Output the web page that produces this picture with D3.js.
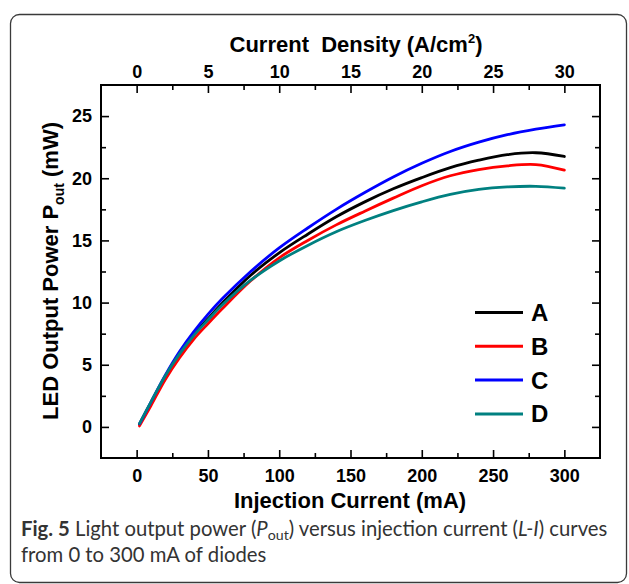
<!DOCTYPE html>
<html>
<head>
<meta charset="utf-8">
<script src="https://cdn.jsdelivr.net/npm/d3@7/dist/d3.min.js"></script>
<style>
  html, body { margin: 0; padding: 0; background: #fff; }
  svg { display: block; }
</style>
</head>
<body>
<svg id="chart" width="629" height="584"></svg>
<script>
// ---- data ----
const currents = [2, 10, 20, 30, 40, 50, 60, 80, 100, 120, 140, 160, 180, 200, 220, 240, 260, 280, 300];
const seriesA = [0.2, 1.9, 4.0, 5.85, 7.4, 8.7, 9.95, 12.2, 14.0, 15.5, 16.9, 18.1, 19.15, 20.05, 20.85, 21.45, 21.9, 22.05, 21.75];
const seriesB = [0.08, 1.7, 3.8, 5.55, 7.05, 8.3, 9.5, 11.75, 13.6, 15.0, 16.25, 17.35, 18.4, 19.4, 20.2, 20.7, 21.0, 21.1, 20.65];
const seriesC = [0.25, 2.0, 4.15, 6.05, 7.65, 9.05, 10.3, 12.5, 14.4, 16.0, 17.5, 18.85, 20.1, 21.2, 22.15, 22.9, 23.5, 23.95, 24.3];
const seriesD = [0.27, 2.0, 4.1, 5.85, 7.35, 8.6, 9.8, 11.8, 13.35, 14.6, 15.7, 16.6, 17.4, 18.1, 18.7, 19.1, 19.3, 19.35, 19.2];
const seriesNames = ["A", "B", "C", "D"];
const seriesColors = ["#000000", "#ff0000", "#0000ff", "#008080"];
const xTicks = [0, 50, 100, 150, 200, 250, 300];
const xMinor = [25, 75, 125, 175, 225, 275];
const topTicks = [0, 5, 10, 15, 20, 25, 30];
const topMinor = [2.5, 7.5, 12.5, 17.5, 22.5, 27.5];
const yTicks = [0, 5, 10, 15, 20, 25];
const yMinor = [2.5, 7.5, 12.5, 17.5, 22.5];

const chartFont = '"Liberation Sans", Arial, Helvetica, sans-serif';
const svg = d3.select("#chart");

// outer rounded frame
svg.append("rect")
  .attr("x", 10.5).attr("y", 14.5).attr("width", 616).attr("height", 568)
  .attr("rx", 9).attr("ry", 9)
  .attr("fill", "none").attr("stroke", "#3a3a3a").attr("stroke-width", 1.3);

const L = 101, R = 600, T = 85, B = 458;
const x = d3.scaleLinear().domain([-25, 325]).range([L, R]);
const xTop = d3.scaleLinear().domain([-2.5, 32.5]).range([L, R]);
const y = d3.scaleLinear().domain([-2.5, 27.5]).range([B, T]);

const g = svg.append("g");

function styleAxis(sel) {
  sel.attr("font-family", null).attr("font-size", null);
  sel.select(".domain").remove();
  sel.selectAll(".tick line").attr("stroke", "#000").attr("stroke-width", 1.6);
  sel.selectAll(".tick text").attr("fill", "#000")
    .style("font-family", chartFont)
    .style("font-size", "18px").style("font-weight", "bold");
}

// bottom axis
g.append("g").attr("transform", `translate(0,${B})`)
  .call(d3.axisBottom(x).tickValues(xTicks).tickSize(-8).tickPadding(11)).call(styleAxis);
g.append("g").attr("transform", `translate(0,${B})`)
  .call(d3.axisBottom(x).tickValues(xMinor).tickSize(-5).tickFormat("")).call(styleAxis);

// top axis
g.append("g").attr("transform", `translate(0,${T})`)
  .call(d3.axisTop(xTop).tickValues(topTicks).tickSize(-8).tickPadding(7)).call(styleAxis);
g.append("g").attr("transform", `translate(0,${T})`)
  .call(d3.axisTop(xTop).tickValues(topMinor).tickSize(-5).tickFormat("")).call(styleAxis);

// left axis
g.append("g").attr("transform", `translate(${L},0)`)
  .call(d3.axisLeft(y).tickValues(yTicks).tickSize(-8).tickPadding(9)).call(styleAxis);
g.append("g").attr("transform", `translate(${L},0)`)
  .call(d3.axisLeft(y).tickValues(yMinor).tickSize(-5).tickFormat("")).call(styleAxis);

// right axis
g.append("g").attr("transform", `translate(${R},0)`)
  .call(d3.axisRight(y).tickValues(yTicks).tickSize(-8).tickFormat("")).call(styleAxis);
g.append("g").attr("transform", `translate(${R},0)`)
  .call(d3.axisRight(y).tickValues(yMinor).tickSize(-5).tickFormat("")).call(styleAxis);

// plot frame
g.append("rect").attr("x", L).attr("y", T).attr("width", R - L).attr("height", B - T)
  .attr("fill", "none").attr("stroke", "#000").attr("stroke-width", 2);

// curves
const allSeries = [seriesA, seriesB, seriesC, seriesD];
const line = d3.line()
  .x((d, i) => x(currents[i]))
  .y(d => y(d))
  .curve(d3.curveCatmullRom.alpha(0.5));
allSeries.forEach((s, k) => {
  g.append("path").datum(s)
    .attr("d", line)
    .attr("fill", "none")
    .attr("stroke", seriesColors[k])
    .attr("stroke-width", 2.8)
    .attr("stroke-linecap", "round");
});

// legend
const legY0 = 312.5, legDY = 33.8;
seriesNames.forEach((n, k) => {
  const yy = legY0 + k * legDY;
  g.append("line").attr("x1", 475).attr("x2", 523).attr("y1", yy).attr("y2", yy)
    .attr("stroke", seriesColors[k]).attr("stroke-width", 3);
  g.append("text").attr("x", 531).attr("y", yy + 8.5)
    .style("font-family", chartFont)
    .style("font-size", "24px").style("font-weight", "bold").attr("fill", "#000")
    .text(n);
});

// axis titles
const topTitle = svg.append("text")
  .attr("x", 356).attr("y", 52).attr("text-anchor", "middle")
  .style("font-family", chartFont)
  .style("font-size", "22px").style("font-weight", "bold")
  .attr("xml:space", "preserve").style("white-space", "pre");
topTitle.append("tspan").text("Current  Density (A/cm");
topTitle.append("tspan").attr("dy", -9).style("font-size", "13px").text("2");
topTitle.append("tspan").attr("dy", 9).text(")");

svg.append("text")
  .attr("x", 350).attr("y", 508).attr("text-anchor", "middle")
  .style("font-family", chartFont)
  .style("font-size", "22px").style("font-weight", "bold")
  .text("Injection Current (mA)");

const yTitle = svg.append("text")
  .attr("transform", "translate(58,271) rotate(-90)")
  .attr("text-anchor", "middle")
  .style("font-family", chartFont)
  .style("font-size", "22px").style("font-weight", "bold");
yTitle.append("tspan").text("LED Output Power P");
yTitle.append("tspan").attr("dy", 6).style("font-size", "14px").text("out");
yTitle.append("tspan").attr("dy", -6).text(" (mW)");

// caption
const capFont = 'Lato, "Open Sans", sans-serif';
const cap1 = svg.append("text").attr("x", 21).attr("y", 536)
  .style("font-family", capFont).style("font-size", "17px").attr("fill", "#333");
cap1.append("tspan").style("font-weight", "bold").text("Fig. 5");
cap1.append("tspan").text(" Light output power (");
cap1.append("tspan").style("font-style", "italic").text("P");
cap1.append("tspan").attr("class", "sub").attr("dy", 4).style("font-size", "12px").text("out");
cap1.append("tspan").attr("dy", -4).text(") versus injection current (");
cap1.append("tspan").style("font-style", "italic").text("L-I");
cap1.append("tspan").text(") curves");
const cap2 = svg.append("text").attr("x", 21).attr("y", 562)
  .style("font-family", capFont).style("font-size", "17px").attr("fill", "#333")
  .text("from 0 to 300 mA of diodes");
// fit first caption line to the reference width
const w1 = cap1.node().getComputedTextLength();
const fs = 17 * 587 / w1;
cap1.style("font-size", fs + "px");
cap1.selectAll("tspan.sub").style("font-size", (fs * 0.7) + "px");
cap2.style("font-size", fs + "px");
</script>
</body>
</html>
